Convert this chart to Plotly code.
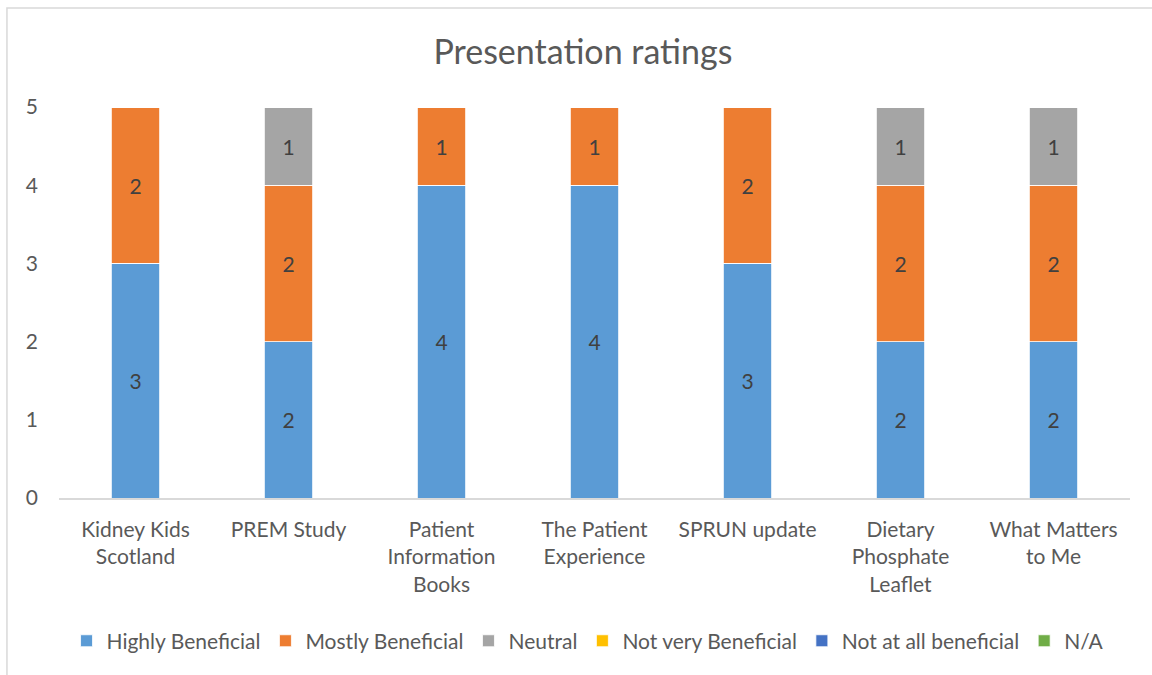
import plotly.graph_objects as go

categories = ["Kidney Kids<br>Scotland", "PREM Study", "Patient<br>Information<br>Books",
              "The Patient<br>Experience", "SPRUN update", "Dietary<br>Phosphate<br>Leaflet",
              "What Matters<br>to Me"]
highly = [3, 2, 4, 4, 3, 2, 2]
mostly = [2, 2, 1, 1, 2, 2, 2]
neutral = [0, 1, 0, 0, 0, 1, 1]
not_very = [0, 0, 0, 0, 0, 0, 0]
not_at_all = [0, 0, 0, 0, 0, 0, 0]
na = [0, 0, 0, 0, 0, 0, 0]

series = [
    ("Highly Beneficial", highly, "#5B9BD5"),
    ("Mostly Beneficial", mostly, "#ED7D31"),
    ("Neutral", neutral, "#A5A5A5"),
    ("Not very Beneficial", not_very, "#FFC000"),
    ("Not at all beneficial", not_at_all, "#4472C4"),
    ("N/A", na, "#70AD47"),
]

FONT = "Lato, Open Sans, sans-serif"

fig = go.Figure()
for name, vals, color in series:
    fig.add_trace(go.Bar(
        x=categories, y=vals, name=name,
        marker=dict(color=color, line=dict(color="white", width=0.8)),
        text=[str(v) if v else "" for v in vals],
        textposition="inside", insidetextanchor="middle",
        textfont=dict(color="#404040", size=21, family=FONT),
        hoverinfo="skip",
    ))

fig.update_layout(
    barmode="stack",
    bargap=0.686,
    width=1152, height=675,
    margin=dict(l=59, r=22, t=107, b=177),
    paper_bgcolor="white", plot_bgcolor="white",
    font=dict(family=FONT, color="#595959", size=21),
    title=dict(text="Presentation ratings", x=0.506, xanchor="center", y=0.923, yanchor="middle",
               font=dict(size=34, color="#595959")),
    legend=dict(orientation="h", x=0.4935, xanchor="center", y=-0.366, yanchor="middle",
                font=dict(size=21, color="#595959"), itemwidth=30, traceorder="normal"),
    showlegend=True,
    uniformtext=dict(mode="show", minsize=10),
    shapes=[dict(type="rect", xref="paper", yref="paper", x0=-0.0486, x1=1.2, y0=-0.6, y1=1.253,
                 line=dict(color="#D9D9D9", width=1.5), fillcolor="rgba(0,0,0,0)", layer="below")],
)
fig.update_xaxes(showline=True, linecolor="#D9D9D9", linewidth=1.5, showgrid=False,
                 tickfont=dict(size=21, color="#595959"), ticks="", ticklabelstandoff=12)
fig.update_yaxes(range=[0, 5], dtick=1, showgrid=False, zeroline=False, showline=False,
                 tickfont=dict(size=21, color="#595959"), ticklabelstandoff=20)

fig.write_html("out.html", config={"displayModeBar": False},
               post_script="document.body.style.margin='0px';")
